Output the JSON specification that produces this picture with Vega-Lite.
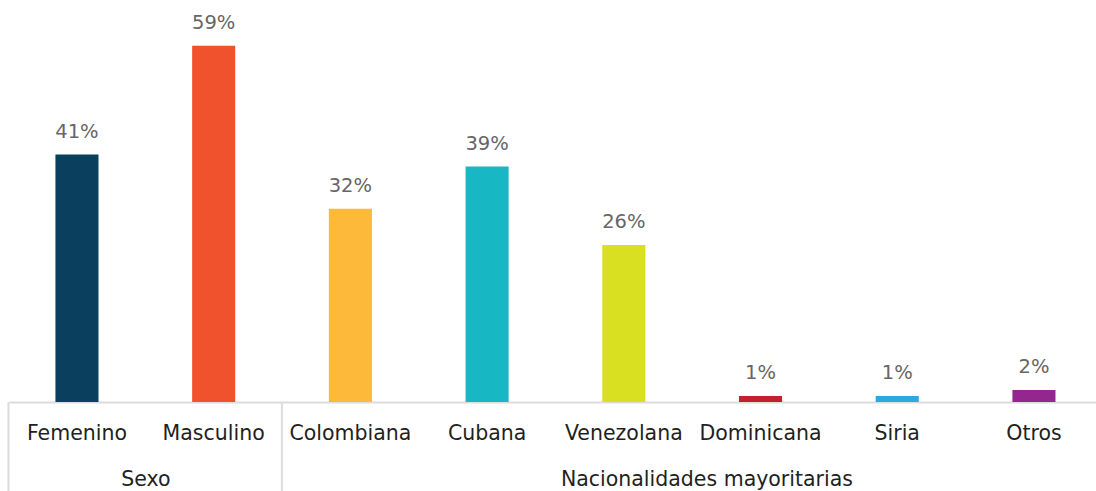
{
  "$schema": "https://vega.github.io/schema/vega-lite/v6.json",
  "width": 1087,
  "height": 402,
  "autosize": "none",
  "padding": {"left": 9, "top": 0, "right": 0, "bottom": 89},
  "background": "white",
  "config": {"view": {"stroke": null}, "font": "DejaVu Sans"},
  "datasets": {
    "bars": [
      {"cat": "Femenino", "value": 41, "label": "41%", "color": "#0b3f5e"},
      {"cat": "Masculino", "value": 59, "label": "59%", "color": "#f0522e"},
      {"cat": "Colombiana", "value": 32, "label": "32%", "color": "#fdb93a"},
      {"cat": "Cubana", "value": 39, "label": "39%", "color": "#17b8c4"},
      {"cat": "Venezolana", "value": 26, "label": "26%", "color": "#d9e021"},
      {"cat": "Dominicana", "value": 1, "label": "1%", "color": "#c21f2f"},
      {"cat": "Siria", "value": 1, "label": "1%", "color": "#29abe2"},
      {"cat": "Otros", "value": 2, "label": "2%", "color": "#93278f"}
    ],
    "groups": [
      {"group": "Sexo", "anchor": "Femenino", "start": "Femenino", "top": 0, "bottom": -15, "labely": -13},
      {"group": "Nacionalidades mayoritarias", "anchor": "Venezolana", "start": "Colombiana", "top": 0, "bottom": -15, "labely": -13}
    ]
  },
  "layer": [
    {
      "data": {"name": "bars"},
      "mark": {"type": "bar"},
      "encoding": {
        "x": {
          "field": "cat", "type": "nominal", "sort": null,
          "scale": {
            "domain": ["Femenino", "Masculino", "Colombiana", "Cubana", "Venezolana", "Dominicana", "Siria", "Otros"],
            "paddingInner": 0.685, "paddingOuter": 0.318, "align": 0.534
          },
          "axis": {
            "title": null, "labelAngle": 0, "ticks": false,
            "domainColor": "#dcdcdc", "domainWidth": 2,
            "labelFontSize": 20.5, "labelColor": "#231f20", "labelPadding": 21,
            "labelFont": "DejaVu Sans"
          }
        },
        "y": {"field": "value", "type": "quantitative", "scale": {"domain": [0, 66.6], "nice": false}, "axis": null},
        "color": {"field": "color", "type": "nominal", "scale": null, "legend": null}
      }
    },
    {
      "data": {"name": "bars"},
      "mark": {"type": "text", "baseline": "bottom", "dy": -13, "fontSize": 19.5, "color": "#666666", "font": "DejaVu Sans"},
      "encoding": {
        "x": {"field": "cat", "type": "nominal", "sort": null},
        "y": {"field": "value", "type": "quantitative"},
        "text": {"field": "label"}
      }
    },
    {
      "data": {"name": "groups"},
      "mark": {"type": "rule", "color": "#dcdcdc", "strokeWidth": 2},
      "encoding": {
        "x": {"field": "start", "type": "nominal", "bandPosition": -1.09},
        "y": {"field": "top", "type": "quantitative"},
        "y2": {"field": "bottom"}
      }
    },
    {
      "data": {"name": "groups"},
      "transform": [{"filter": "datum.group === 'Sexo'"}],
      "mark": {"type": "text", "baseline": "middle", "fontSize": 20.5, "color": "#231f20", "font": "DejaVu Sans"},
      "encoding": {
        "x": {"field": "anchor", "type": "nominal", "bandPosition": 2.1},
        "y": {"field": "labely", "type": "quantitative"},
        "text": {"field": "group"}
      }
    },
    {
      "data": {"name": "groups"},
      "transform": [{"filter": "datum.group !== 'Sexo'"}],
      "mark": {"type": "text", "baseline": "middle", "fontSize": 20.5, "color": "#231f20", "font": "DejaVu Sans"},
      "encoding": {
        "x": {"field": "anchor", "type": "nominal", "bandPosition": 2.43},
        "y": {"field": "labely", "type": "quantitative"},
        "text": {"field": "group"}
      }
    }
  ]
}
